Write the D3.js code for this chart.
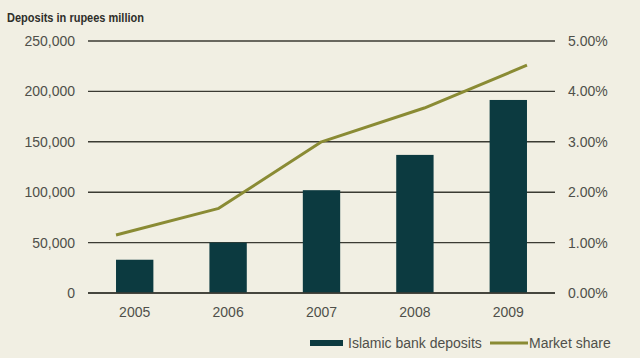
<!DOCTYPE html>
<html>
<head>
<meta charset="utf-8">
<script src="https://cdn.jsdelivr.net/npm/d3@7"></script>
<style>
  html, body { margin: 0; padding: 0; background: #f1efe3; }
  svg { display: block; }
  text { font-family: "Liberation Sans", Arial, sans-serif; }
</style>
</head>
<body>
<svg id="chart" width="640" height="358"></svg>
<script>
const years = ["2005", "2006", "2007", "2008", "2009"];
const deposits = [33000, 50000, 102000, 137000, 191500];
const marketShare = [1.15, 1.68, 3.0, 3.67, 4.52];
const leftTicks = [0, 50000, 100000, 150000, 200000, 250000];
const rightTicks = [0, 1, 2, 3, 4, 5];
const legendLabels = ["Islamic bank deposits", "Market share"];
const titleText = "Deposits in rupees million";

const W = 640, H = 358;
const margin = { left: 88, right: 85, top: 41, bottom: 65 };
const plotL = margin.left, plotR = W - margin.right, plotT = margin.top, plotB = H - margin.bottom;

const svg = d3.select("#chart");
svg.append("rect").attr("width", W).attr("height", H).attr("fill", "#f1efe3");

const x = d3.scaleBand().domain(years).range([plotL, plotR]).paddingInner(0.6).paddingOuter(0.3);
const yL = d3.scaleLinear().domain([0, 250000]).range([plotB, plotT]);
const yR = d3.scaleLinear().domain([0, 5]).range([plotB, plotT]);
const xLine = d3.scalePoint().domain(years).range([x(years[0]), x(years[years.length - 1]) + x.bandwidth()]);

// Gridlines
svg.append("g").selectAll("line").data(leftTicks).join("line")
  .attr("x1", plotL).attr("x2", plotR)
  .attr("y1", d => yL(d)).attr("y2", d => yL(d))
  .attr("stroke", "#3b3b33").attr("stroke-width", 1.4);

// Left axis labels
const fmt = d3.format(",");
const leftAxis = d3.axisLeft(yL).tickValues(leftTicks).tickFormat(d => fmt(d)).tickSize(0).tickPadding(13);
const gL = svg.append("g").attr("transform", `translate(${plotL},0)`).call(leftAxis);
gL.select(".domain").remove();
gL.selectAll("text").attr("font-size", "14px").attr("fill", "#4f4f4a").attr("font-family", "Liberation Sans, Arial, sans-serif");

// Right axis labels
const rightAxis = d3.axisRight(yR).tickValues(rightTicks).tickFormat(d => d.toFixed(2) + "%").tickSize(0).tickPadding(13);
const gR = svg.append("g").attr("transform", `translate(${plotR},0)`).call(rightAxis);
gR.select(".domain").remove();
gR.selectAll("text").attr("font-size", "14px").attr("fill", "#4f4f4a").attr("font-family", "Liberation Sans, Arial, sans-serif");

// Bottom axis labels
const bottomAxis = d3.axisBottom(x).tickSize(0).tickPadding(14);
const gB = svg.append("g").attr("transform", `translate(0,${plotB})`).call(bottomAxis);
gB.select(".domain").remove();
gB.selectAll("text").attr("font-size", "14px").attr("fill", "#4f4f4a").attr("font-family", "Liberation Sans, Arial, sans-serif");

// Bars
svg.append("g").selectAll("rect").data(deposits).join("rect")
  .attr("x", (d, i) => x(years[i]))
  .attr("width", x.bandwidth())
  .attr("y", d => yL(d))
  .attr("height", d => yL(0) - yL(d))
  .attr("fill", "#0c3a40");

// Redraw zero line on top
svg.append("line").attr("x1", plotL).attr("x2", plotR).attr("y1", yL(0)).attr("y2", yL(0))
  .attr("stroke", "#3b3b33").attr("stroke-width", 1.4);

// Line
const line = d3.line().x((d, i) => xLine(years[i])).y(d => yR(d));
svg.append("path").datum(marketShare)
  .attr("d", line).attr("fill", "none")
  .attr("stroke", "#8a8b34").attr("stroke-width", 3).attr("stroke-linejoin", "round");

// Title
svg.append("text").attr("x", 7).attr("y", 22).text(titleText)
  .attr("font-size", "12px").attr("font-weight", "bold").attr("fill", "#2e2e2a")
  .attr("textLength", 137).attr("lengthAdjust", "spacingAndGlyphs");

// Legend
const lg = svg.append("g");
lg.append("rect").attr("x", 310).attr("y", 340).attr("width", 33).attr("height", 6).attr("fill", "#0c3a40");
lg.append("text").attr("x", 348).attr("y", 348).text(legendLabels[0])
  .attr("font-size", "14px").attr("fill", "#4f4f4a");
lg.append("line").attr("x1", 490).attr("x2", 528).attr("y1", 343).attr("y2", 343)
  .attr("stroke", "#8a8b34").attr("stroke-width", 3);
lg.append("text").attr("x", 529).attr("y", 348).text(legendLabels[1])
  .attr("font-size", "14px").attr("fill", "#4f4f4a");
</script>
</body>
</html>
